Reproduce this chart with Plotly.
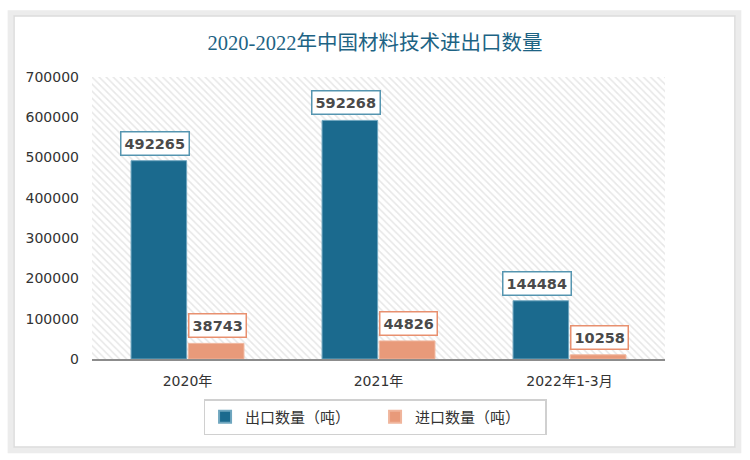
import plotly.graph_objects as go

categories = ["2020年", "2021年", "2022年1-3月"]
export_vals = [492265, 592268, 144484]
import_vals = [38743, 44826, 10258]
series_names = ["出口数量（吨）", "进口数量（吨）"]
title_text = "2020-2022年中国材料技术进出口数量"

EXP_COLOR = "#1b6a8e"
IMP_COLOR = "#e89a7a"
EXP_BORDER = "#5595b0"
IMP_BORDER = "#e8906f"

fig = go.Figure()

# hatched plot-area background
fig.add_trace(go.Bar(
    x=[0.5], y=[700000], width=[1], xaxis="x", yaxis="y",
    marker=dict(color="white", line=dict(width=0),
                pattern=dict(shape="\\", fgcolor="#cfcfcf", bgcolor="white", size=5, solidity=0.3)),
    showlegend=False, hoverinfo="skip",
))

fig.add_trace(go.Bar(
    x=categories, y=export_vals, name=series_names[0], xaxis="x2", yaxis="y",
    marker=dict(color=EXP_COLOR, line=dict(color="#6fa6bf", width=1)),
))
fig.add_trace(go.Bar(
    x=categories, y=import_vals, name=series_names[1], xaxis="x2", yaxis="y",
    marker=dict(color=IMP_COLOR, line=dict(color="#f0b59c", width=1)),
))

annotations = []
for i, (e, im) in enumerate(zip(export_vals, import_vals)):
    annotations.append(dict(
        x=i - 0.17, y=e, xref="x2", yref="y", text=f"<b>{e}</b>", showarrow=False,
        yanchor="bottom", yshift=5, bgcolor="white", bordercolor=EXP_BORDER, borderwidth=1.5,
        borderpad=3, font=dict(size=14.5, color="#4a4a4a", family="DejaVu Sans, Noto Sans CJK SC"),
    ))
    annotations.append(dict(
        x=i + 0.155, y=im, xref="x2", yref="y", text=f"<b>{im}</b>", showarrow=False,
        yanchor="bottom", yshift=5, bgcolor="white", bordercolor=IMP_BORDER, borderwidth=1.5,
        borderpad=3, font=dict(size=14.5, color="#4a4a4a", family="DejaVu Sans, Noto Sans CJK SC"),
    ))

# card with shadow-like border
shapes = [
    dict(type="rect", xref="paper", yref="paper", x0=-0.142, x1=1.128, y0=-0.324, y1=1.226,
         line=dict(color="#ececec", width=6), fillcolor="rgba(0,0,0,0)", layer="below"),
    dict(type="rect", xref="paper", yref="paper", x0=-0.136, x1=1.122, y0=-0.312, y1=1.216,
         line=dict(color="#dcdcdc", width=1.5), fillcolor="white", layer="below"),
]

fig.update_layout(
    width=750, height=460,
    margin=dict(l=92, r=85, t=77, b=101),
    paper_bgcolor="white", plot_bgcolor="rgba(0,0,0,0)",
    barmode="group", bargap=0.4, bargroupgap=0.03,
    title=dict(text=title_text, x=0.5, xanchor="center", y=1 - 43 / 460, yanchor="middle",
               font=dict(size=20.5, color="#1d6384", family="Liberation Serif, Noto Sans CJK SC")),
    xaxis=dict(range=[0, 1], visible=False, fixedrange=True),
    xaxis2=dict(overlaying="x", type="category", showgrid=False, zeroline=False,
                showline=True, linecolor="#8c8c8c", linewidth=2, ticks="",
                tickfont=dict(size=14, color="#333333", family="DejaVu Sans, Noto Sans CJK SC"),
                ticklabelstandoff=8),
    yaxis=dict(range=[0, 700000], dtick=100000, tickformat="d", showgrid=False, zeroline=False,
               showline=False, ticks="",
               tickfont=dict(size=14, color="#333333", family="DejaVu Sans, Noto Sans CJK SC"),
               ticklabelstandoff=12),
    legend=dict(orientation="h", x=0.494, xanchor="center", y=-0.206, yanchor="middle",
                bordercolor="#d0d0d0", borderwidth=1.5, bgcolor="white",
                font=dict(size=15, color="#333333", family="Noto Sans CJK SC"),
                entrywidth=125, itemsizing="constant", itemwidth=30),
    annotations=annotations, shapes=shapes, hovermode=False,
)

fig.write_html("out.html")
